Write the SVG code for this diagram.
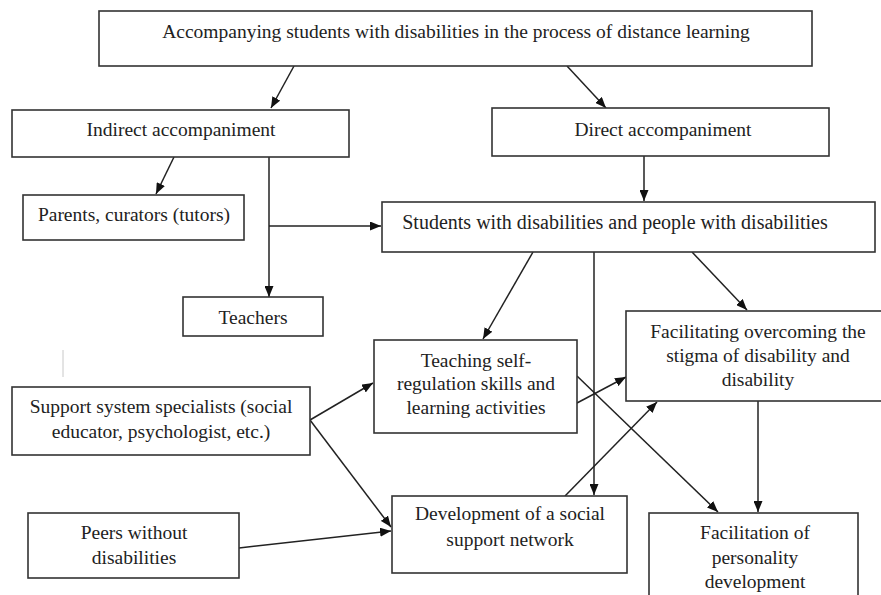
<svg xmlns="http://www.w3.org/2000/svg" width="881" height="595" viewBox="0 0 881 595">
<defs>
<marker id="ah" markerUnits="userSpaceOnUse" markerWidth="11" markerHeight="9" refX="11" refY="4.5" orient="auto">
<path d="M0,0 L11,4.5 L0,9 z" fill="#111"/>
</marker>
<style>
rect.n{fill:#fff;stroke:#333;stroke-width:1.6}
#connectors line{stroke:#222;stroke-width:1.5}
#connectors line.a{marker-end:url(#ah)}
</style>
</defs>
<rect width="881" height="595" fill="#fff"/>
<line x1="63" y1="350" x2="63" y2="377" stroke="#c8c8c8" stroke-width="1"/>
<g id="connectors">
<line class="a" x1="294" y1="66" x2="271" y2="108"/>
<line class="a" x1="567" y1="66" x2="606" y2="108"/>
<line class="a" x1="174" y1="157" x2="156" y2="194"/>
<line class="a" x1="269" y1="157" x2="269" y2="297"/>
<line class="a" x1="269" y1="226" x2="381" y2="226"/>
<line class="a" x1="644" y1="156" x2="644" y2="201"/>
<line class="a" x1="533" y1="252" x2="483" y2="339"/>
<line class="a" x1="594" y1="252" x2="594" y2="495"/>
<line class="a" x1="692" y1="252" x2="747" y2="310"/>
<line class="a" x1="310" y1="420" x2="373" y2="383"/>
<line class="a" x1="310" y1="420" x2="391" y2="527"/>
<line class="a" x1="239" y1="548" x2="391" y2="531"/>
<line class="a" x1="577" y1="403" x2="626" y2="377"/>
<line class="a" x1="577" y1="376" x2="718" y2="512"/>
<line class="a" x1="565" y1="496" x2="657" y2="402"/>
<line class="a" x1="758" y1="401" x2="758" y2="512"/>
</g>
<g id="top"><rect class="n" x="99" y="11" width="713" height="55"/><text font-family="Liberation Serif" font-size="19.5" fill="#222" text-anchor="middle" x="456" y="38">Accompanying students with disabilities in the process of distance learning</text></g>
<g id="indirect"><rect class="n" x="12" y="110" width="337" height="47"/><text font-family="Liberation Serif" font-size="19.5" fill="#222" text-anchor="middle" x="181" y="136">Indirect accompaniment</text></g>
<g id="direct"><rect class="n" x="492" y="108" width="337" height="48"/><text font-family="Liberation Serif" font-size="19.5" fill="#222" text-anchor="middle" x="663" y="136">Direct accompaniment</text></g>
<g id="parents"><rect class="n" x="23" y="195" width="221" height="45"/><text font-family="Liberation Serif" font-size="19.5" fill="#222" text-anchor="middle" x="134" y="221">Parents, curators (tutors)</text></g>
<g id="students"><rect class="n" x="382" y="202" width="493" height="50"/><text font-family="Liberation Serif" font-size="20" fill="#222" text-anchor="middle" x="615" y="229">Students with disabilities and people with disabilities</text></g>
<g id="teachers"><rect class="n" x="183" y="297" width="140" height="39"/><text font-family="Liberation Serif" font-size="19.5" fill="#222" text-anchor="middle" x="253" y="324">Teachers</text></g>
<g id="facilitating"><rect class="n" x="626" y="311" width="264" height="90"/><text font-family="Liberation Serif" font-size="19.5" fill="#222" text-anchor="middle" x="758" y="338">Facilitating overcoming the</text><text font-family="Liberation Serif" font-size="19.5" fill="#222" text-anchor="middle" x="758" y="362">stigma of disability and</text><text font-family="Liberation Serif" font-size="19.5" fill="#222" text-anchor="middle" x="758" y="386">disability</text></g>
<g id="teaching"><rect class="n" x="374" y="340" width="203" height="93"/><text font-family="Liberation Serif" font-size="19.5" fill="#222" text-anchor="middle" x="476" y="367">Teaching self-</text><text font-family="Liberation Serif" font-size="19.5" fill="#222" text-anchor="middle" x="476" y="390">regulation skills and</text><text font-family="Liberation Serif" font-size="19.5" fill="#222" text-anchor="middle" x="476" y="414">learning activities</text></g>
<g id="support"><rect class="n" x="12" y="387" width="298" height="68"/><text font-family="Liberation Serif" font-size="19.5" fill="#222" text-anchor="middle" x="161" y="413">Support system specialists (social</text><text font-family="Liberation Serif" font-size="19.5" fill="#222" text-anchor="middle" x="161" y="438">educator, psychologist, etc.)</text></g>
<g id="peers"><rect class="n" x="28" y="513" width="211" height="65"/><text font-family="Liberation Serif" font-size="19.5" fill="#222" text-anchor="middle" x="134" y="539">Peers without</text><text font-family="Liberation Serif" font-size="19.5" fill="#222" text-anchor="middle" x="134" y="564">disabilities</text></g>
<g id="development"><rect class="n" x="392" y="496" width="235" height="77"/><text font-family="Liberation Serif" font-size="19.5" fill="#222" text-anchor="middle" x="510" y="520">Development of a social</text><text font-family="Liberation Serif" font-size="19.5" fill="#222" text-anchor="middle" x="510" y="546">support network</text></g>
<g id="facilitation"><rect class="n" x="649" y="513" width="209" height="90"/><text font-family="Liberation Serif" font-size="19.5" fill="#222" text-anchor="middle" x="755" y="539">Facilitation of</text><text font-family="Liberation Serif" font-size="19.5" fill="#222" text-anchor="middle" x="755" y="564">personality</text><text font-family="Liberation Serif" font-size="19.5" fill="#222" text-anchor="middle" x="755" y="588">development</text></g>
</svg>
